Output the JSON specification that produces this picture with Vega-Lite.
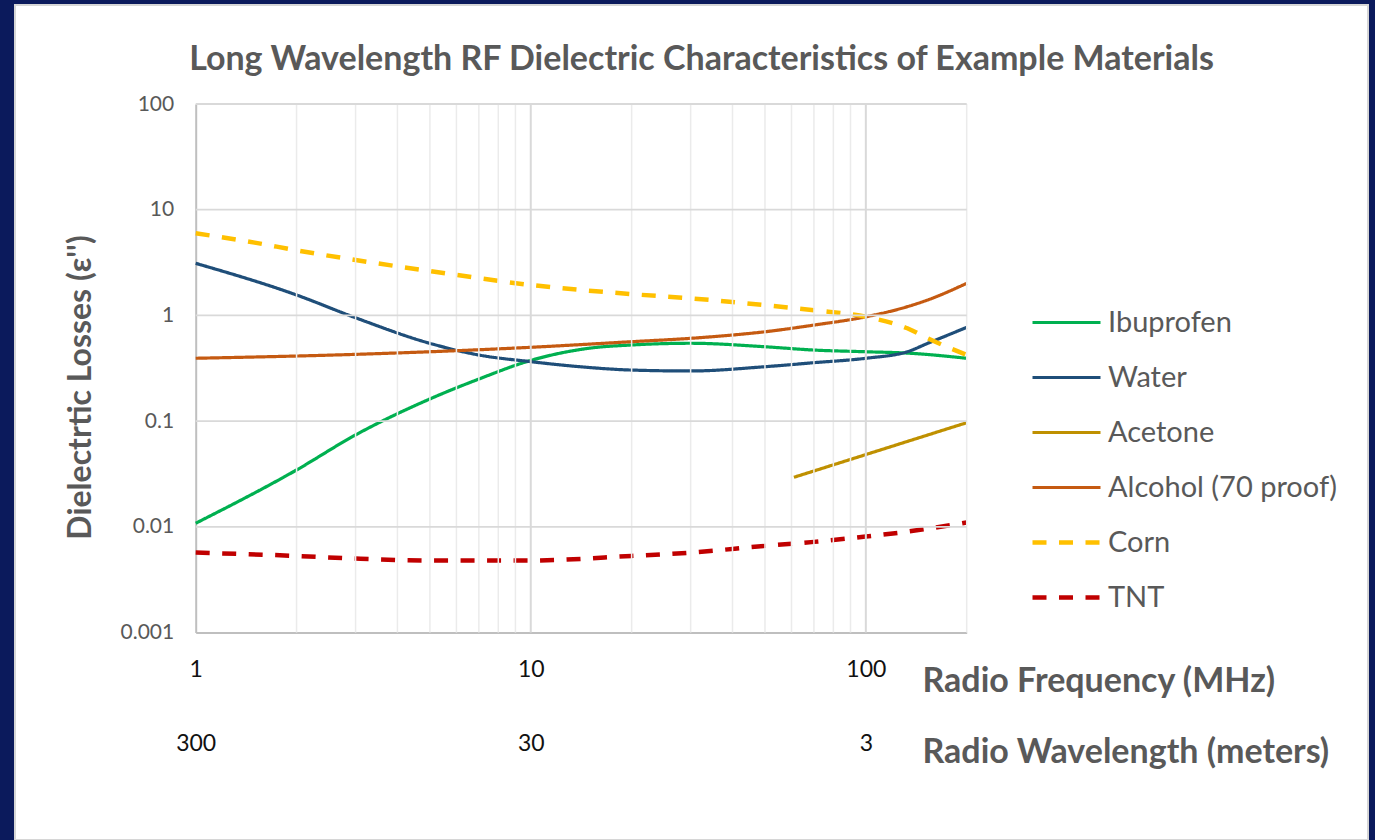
{
  "$schema": "https://vega.github.io/schema/vega-lite/v6.json",
  "width": 1353,
  "height": 835,
  "autosize": {"type": "none"},
  "padding": {"left": 15, "top": 5, "right": 7, "bottom": 0},
  "background": "#0b1a5c",
  "config": {
    "view": {"fill": "#ffffff", "stroke": "#d6d6d6", "strokeWidth": 2},
    "font": "Lato"
  },
  "title": {
    "text": "Long Wavelength RF Dielectric Characteristics of Example Materials",
    "font": "Lato",
    "fontSize": 34,
    "fontWeight": "bold",
    "color": "#595959",
    "anchor": "middle",
    "frame": "group",
    "offset": 0,
    "baseline": "alphabetic",
    "dy": 99,
    "dx": 10
  },
  "datasets": {
    "minorV": [{"f": 2}, {"f": 3}, {"f": 4}, {"f": 5}, {"f": 6}, {"f": 7}, {"f": 8}, {"f": 9}, {"f": 20}, {"f": 30}, {"f": 40}, {"f": 50}, {"f": 60}, {"f": 70}, {"f": 80}, {"f": 90}, {"f": 200}],
    "majorV": [{"f": 10}, {"f": 100}],
    "hGrid": [{"v": 0.01}, {"v": 0.1}, {"v": 1}, {"v": 10}, {"v": 100}],
    "series": [
      {"material": "Ibuprofen", "f": 1, "v": 0.0108},
      {"material": "Ibuprofen", "f": 2, "v": 0.0345},
      {"material": "Ibuprofen", "f": 3, "v": 0.074},
      {"material": "Ibuprofen", "f": 5, "v": 0.162},
      {"material": "Ibuprofen", "f": 7, "v": 0.25},
      {"material": "Ibuprofen", "f": 10, "v": 0.375},
      {"material": "Ibuprofen", "f": 15, "v": 0.49},
      {"material": "Ibuprofen", "f": 20, "v": 0.525},
      {"material": "Ibuprofen", "f": 30, "v": 0.545},
      {"material": "Ibuprofen", "f": 50, "v": 0.505},
      {"material": "Ibuprofen", "f": 70, "v": 0.47},
      {"material": "Ibuprofen", "f": 100, "v": 0.453},
      {"material": "Ibuprofen", "f": 133, "v": 0.44},
      {"material": "Ibuprofen", "f": 200, "v": 0.393},
      {"material": "Water", "f": 1, "v": 3.11},
      {"material": "Water", "f": 2, "v": 1.56},
      {"material": "Water", "f": 3, "v": 0.95},
      {"material": "Water", "f": 5, "v": 0.544},
      {"material": "Water", "f": 7, "v": 0.422},
      {"material": "Water", "f": 10, "v": 0.365},
      {"material": "Water", "f": 14, "v": 0.327},
      {"material": "Water", "f": 20, "v": 0.304},
      {"material": "Water", "f": 30, "v": 0.298},
      {"material": "Water", "f": 50, "v": 0.327},
      {"material": "Water", "f": 70, "v": 0.357},
      {"material": "Water", "f": 100, "v": 0.393},
      {"material": "Water", "f": 133, "v": 0.453},
      {"material": "Water", "f": 153, "v": 0.544},
      {"material": "Water", "f": 200, "v": 0.77},
      {"material": "Acetone", "f": 61, "v": 0.0294},
      {"material": "Acetone", "f": 200, "v": 0.0966},
      {"material": "Alcohol (70 proof)", "f": 1, "v": 0.393},
      {"material": "Alcohol (70 proof)", "f": 3, "v": 0.428},
      {"material": "Alcohol (70 proof)", "f": 10, "v": 0.499},
      {"material": "Alcohol (70 proof)", "f": 20, "v": 0.564},
      {"material": "Alcohol (70 proof)", "f": 30, "v": 0.607},
      {"material": "Alcohol (70 proof)", "f": 40, "v": 0.652},
      {"material": "Alcohol (70 proof)", "f": 50, "v": 0.7},
      {"material": "Alcohol (70 proof)", "f": 70, "v": 0.81},
      {"material": "Alcohol (70 proof)", "f": 100, "v": 0.97},
      {"material": "Alcohol (70 proof)", "f": 133, "v": 1.21},
      {"material": "Alcohol (70 proof)", "f": 153, "v": 1.4},
      {"material": "Alcohol (70 proof)", "f": 200, "v": 2.01},
      {"material": "Corn", "f": 1, "v": 5.98},
      {"material": "Corn", "f": 1.5, "v": 4.88},
      {"material": "Corn", "f": 2, "v": 4.13},
      {"material": "Corn", "f": 3, "v": 3.34},
      {"material": "Corn", "f": 5, "v": 2.63},
      {"material": "Corn", "f": 10, "v": 1.94},
      {"material": "Corn", "f": 20, "v": 1.59},
      {"material": "Corn", "f": 30, "v": 1.45},
      {"material": "Corn", "f": 50, "v": 1.25},
      {"material": "Corn", "f": 70, "v": 1.12},
      {"material": "Corn", "f": 100, "v": 0.97},
      {"material": "Corn", "f": 133, "v": 0.755},
      {"material": "Corn", "f": 153, "v": 0.607},
      {"material": "Corn", "f": 200, "v": 0.422},
      {"material": "TNT", "f": 1, "v": 0.0057},
      {"material": "TNT", "f": 2, "v": 0.0053},
      {"material": "TNT", "f": 3, "v": 0.005},
      {"material": "TNT", "f": 5, "v": 0.0048},
      {"material": "TNT", "f": 10, "v": 0.0048},
      {"material": "TNT", "f": 20, "v": 0.0053},
      {"material": "TNT", "f": 30, "v": 0.0057},
      {"material": "TNT", "f": 50, "v": 0.0066},
      {"material": "TNT", "f": 70, "v": 0.0072},
      {"material": "TNT", "f": 100, "v": 0.0081},
      {"material": "TNT", "f": 133, "v": 0.009},
      {"material": "TNT", "f": 200, "v": 0.011}
    ]
  },
  "layer": [
    {
      "data": {"name": "series"},
      "mark": {"type": "line", "interpolate": "monotone", "strokeCap": "butt", "zindex": 2},
      "encoding": {
        "x": {
          "field": "f",
          "type": "quantitative",
          "scale": {"type": "log", "domain": [1, 200], "range": [180.7, 951.7], "nice": false},
          "axis": {
            "offset": -207.5,
            "grid": false,
            "ticks": false,
            "domain": true,
            "domainColor": "#bfbfbf",
            "domainWidth": 2,
            "values": [1, 10, 100],
            "labelExpr": "datum.value == 1 ? ['1', '300'] : datum.value == 10 ? ['10', '30'] : ['100', '3']",
            "labelFont": "Lato",
            "labelFontSize": 23,
            "labelColor": "#111111",
            "labelLineHeight": 74,
            "labelPadding": 26,
            "labelBaseline": "top",
            "labelOverlap": false,
            "labelFlush": false,
            "title": ["Radio Frequency (MHz)", "Radio Wavelength (meters)"],
            "titleFont": "Lato",
            "titleFontSize": 34,
            "titleFontWeight": "bold",
            "titleColor": "#595959",
            "titleAnchor": "start",
            "titleAlign": "left",
            "titleBaseline": "alphabetic",
            "titleX": 907,
            "titleY": 59,
            "titleLineHeight": 71
          }
        },
        "y": {
          "field": "v",
          "type": "quantitative",
          "scale": {"type": "log", "domain": [0.001, 100], "range": [627.5, 99], "nice": false},
          "axis": {
            "offset": -180.7,
            "grid": false,
            "ticks": false,
            "domain": true,
            "domainColor": "#bfbfbf",
            "domainWidth": 2,
            "values": [0.001, 0.01, 0.1, 1, 10, 100],
            "labelExpr": "format(datum.value, '~g')",
            "labelFont": "Lato",
            "labelFontSize": 21,
            "labelColor": "#595959",
            "labelPadding": 22,
            "labelOffset": 0,
            "labelOverlap": false,
            "labelFlush": false,
            "title": "Dielectrtic Losses (ε'')",
            "titleFont": "Lato",
            "titleFontSize": 32,
            "titleFontWeight": "bold",
            "titleColor": "#595959",
            "titleAnchor": "middle",
            "titleAngle": 270,
            "titleAlign": "center",
            "titleBaseline": "middle",
            "titleX": -115,
            "titleY": 382
          }
        },
        "color": {
          "field": "material",
          "type": "nominal",
          "scale": {
            "domain": ["Ibuprofen", "Water", "Acetone", "Alcohol (70 proof)", "Corn", "TNT"],
            "range": ["#00b050", "#1f4e79", "#bf9000", "#c55a11", "#ffc000", "#c00000"]
          },
          "legend": {
            "orient": "none",
            "legendX": 1015,
            "legendY": 290,
            "title": null,
            "padding": 0,
            "symbolType": "stroke",
            "symbolSize": 4624,
            "labelFont": "Lato",
            "labelFontSize": 29,
            "labelColor": "#595959",
            "labelOffset": 5,
            "labelLimit": 400,
            "clipHeight": 55,
            "rowPadding": 0
          }
        },
        "strokeDash": {
          "field": "material",
          "type": "nominal",
          "scale": {
            "domain": ["Ibuprofen", "Water", "Acetone", "Alcohol (70 proof)", "Corn", "TNT"],
            "range": [[1, 0], [1, 0], [1, 0], [1, 0], [14, 12.5], [14, 12.5]]
          }
        },
        "strokeWidth": {
          "field": "material",
          "type": "nominal",
          "scale": {
            "type": "ordinal",
            "domain": ["Ibuprofen", "Water", "Acetone", "Alcohol (70 proof)", "Corn", "TNT"],
            "range": [3.2, 3.2, 3.2, 3.2, 4.5, 4.5]
          }
        }
      }
    },
    {
      "data": {"name": "minorV"},
      "mark": {"type": "rule", "color": "#ebebeb", "strokeWidth": 1.5, "zindex": 0},
      "encoding": {
        "x": {"field": "f", "type": "quantitative", "scale": {"type": "log", "domain": [1, 200], "range": [180.7, 951.7], "nice": false}},
        "y": {"datum": 0.001, "type": "quantitative", "scale": {"type": "log", "domain": [0.001, 100], "range": [627.5, 99], "nice": false}},
        "y2": {"datum": 100}
      }
    },
    {
      "data": {"name": "majorV"},
      "mark": {"type": "rule", "color": "#d9d9d9", "strokeWidth": 2, "zindex": 0},
      "encoding": {
        "x": {"field": "f", "type": "quantitative", "scale": {"type": "log", "domain": [1, 200], "range": [180.7, 951.7], "nice": false}},
        "y": {"datum": 0.001, "type": "quantitative", "scale": {"type": "log", "domain": [0.001, 100], "range": [627.5, 99], "nice": false}},
        "y2": {"datum": 100}
      }
    },
    {
      "data": {"name": "hGrid"},
      "mark": {"type": "rule", "color": "#d9d9d9", "strokeWidth": 1.8, "zindex": 0},
      "encoding": {
        "y": {"field": "v", "type": "quantitative", "scale": {"type": "log", "domain": [0.001, 100], "range": [627.5, 99], "nice": false}},
        "x": {"datum": 1, "type": "quantitative", "scale": {"type": "log", "domain": [1, 200], "range": [180.7, 951.7], "nice": false}},
        "x2": {"datum": 200}
      }
    }
  ]
}
